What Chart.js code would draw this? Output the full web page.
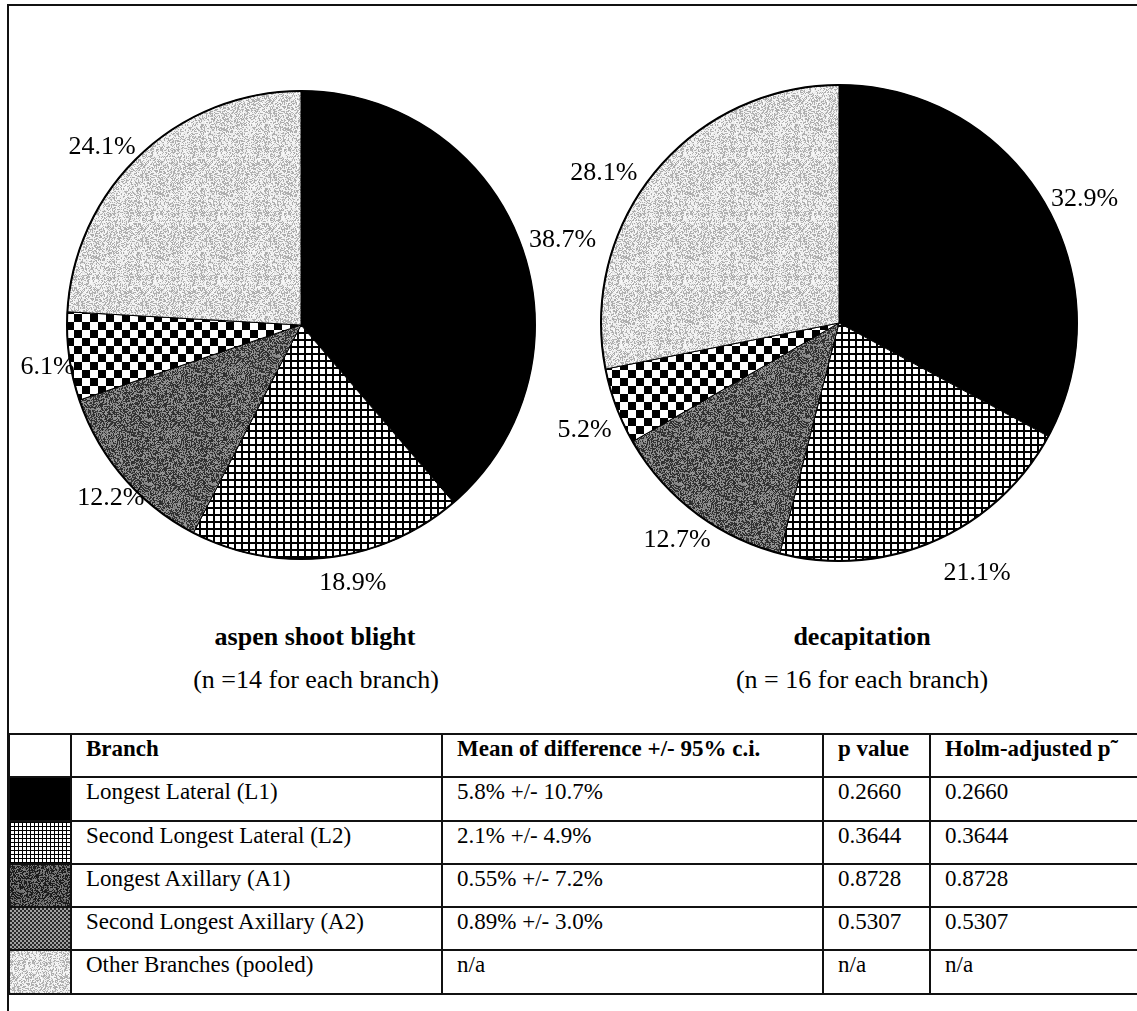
<!DOCTYPE html>
<html>
<head>
<meta charset="utf-8">
<script src="https://cdn.jsdelivr.net/npm/chart.js@4/dist/chart.umd.min.js"></script>
<style>
  html, body { margin: 0; padding: 0; background: #fff; }
  body { width: 1137px; height: 1011px; overflow: hidden; position: relative; font-family: "Liberation Serif", "Times New Roman", serif; color: #000; }
  .frame { position: absolute; left: 7px; top: 4px; width: 1150px; height: 1020px; border-top: 2px solid #111; border-left: 2px solid #111; }
  canvas.pie { position: absolute; top: 10px; }
  .cap { position: absolute; width: 400px; text-align: center; font-size: 26px; line-height: 30px; white-space: nowrap; }
  .cap.b { font-weight: bold; }
  table.stats { position: absolute; left: 8px; top: 733px; border-collapse: collapse; table-layout: fixed; width: 1182px; font-size: 23px; }
  table.stats td { border: 2px solid #111; height: 40.3px; padding: 1px 14px 0 14px; vertical-align: top; line-height: 26px; white-space: nowrap; overflow: hidden; }
  table.stats td.sw { padding: 0; background-repeat: repeat; }
  table.stats tr.head td { font-weight: bold; }
</style>
</head>
<body>
<div class="frame"></div>
<canvas id="pieBlight" class="pie" width="640" height="600" style="left:10px"></canvas>
<canvas id="pieDecap" class="pie" width="597" height="600" style="left:540px"></canvas>
<div class="cap b" id="t1" style="left:115px; top:622px"></div>
<div class="cap" id="s1" style="left:116px; top:665px"></div>
<div class="cap b" id="t2" style="left:662px; top:622px"></div>
<div class="cap" id="s2" style="left:662px; top:665px"></div>
<table class="stats" id="stats">
  <colgroup><col style="width:62px"><col style="width:371px"><col style="width:381px"><col style="width:107px"><col style="width:261px"></colgroup>
</table>
<script>
// ---- data ----
const branches = ['Longest Lateral (L1)', 'Second Longest Lateral (L2)', 'Longest Axillary (A1)', 'Second Longest Axillary (A2)', 'Other Branches (pooled)'];
const blightShares = [38.7, 18.9, 12.2, 6.1, 24.1];
const decapShares = [32.9, 21.1, 12.7, 5.2, 28.1];
const meanDiff = ['5.8% +/- 10.7%', '2.1% +/- 4.9%', '0.55% +/- 7.2%', '0.89% +/- 3.0%', 'n/a'];
const pValues = ['0.2660', '0.3644', '0.8728', '0.5307', 'n/a'];
const holmP = ['0.2660', '0.3644', '0.8728', '0.5307', 'n/a'];
const headers = ['Branch', 'Mean of difference +/- 95% c.i.', 'p value', 'Holm-adjusted p\u02DC'];
const groupTitles = ['aspen shoot blight', 'decapitation'];
const groupNotes = ['(n =14 for each branch)', '(n = 16 for each branch)'];

// ---- fill textures ----
function hash(x, y, k) {
  let h = Math.imul(x, 374761393) + Math.imul(y, 668265263) + Math.imul(k, 2246822519);
  h = Math.imul(h ^ (h >>> 13), 1274126177);
  h = h ^ (h >>> 16);
  return (h >>> 0) / 4294967296;
}
function tile(kind, small) {
  const c = document.createElement('canvas');
  const g = c.getContext('2d');
  if (kind === 'solid') {
    c.width = c.height = 4; g.fillStyle = '#000'; g.fillRect(0, 0, 4, 4);
  } else if (kind === 'grid') {
    const p = small ? 4 : 7, lw = small ? 1 : 2;
    c.width = c.height = p;
    g.fillStyle = '#fff'; g.fillRect(0, 0, p, p);
    g.fillStyle = '#000'; g.fillRect(0, 0, p, lw); g.fillRect(0, 0, lw, p);
  } else if (kind === 'checker') {
    const q = small ? 2 : 8;
    c.width = c.height = q * 2;
    g.fillStyle = small ? '#2a2a2a' : '#000'; g.fillRect(0, 0, q * 2, q * 2);
    g.fillStyle = small ? '#a0a0a0' : '#fff'; g.fillRect(q, 0, q, q); g.fillRect(0, q, q, q);
  } else {
    const n = 64; c.width = c.height = n;
    const img = g.createImageData(n, n);
    const darkBase = small ? 20 : 40, darkHi = small ? 95 : 120;
    for (let y = 0; y < n; y++) for (let x = 0; x < n; x++) {
      const r = hash(x, y, kind === 'dark' ? 1 : 2);
      let v;
      if (kind === 'dark') v = r < 0.5 ? darkBase + r * 40 : darkHi + (r - 0.5) * 80;
      else v = r < 0.4 ? 168 + r * 40 : 228 + (r - 0.4) * 40;
      const i = (y * n + x) * 4;
      img.data[i] = img.data[i + 1] = img.data[i + 2] = v; img.data[i + 3] = 255;
    }
    g.putImageData(img, 0, 0);
  }
  return c;
}
const fillKinds = ['solid', 'grid', 'dark', 'checker', 'light'];
const pieCtx = document.createElement('canvas').getContext('2d');
const slicePatterns = fillKinds.map(k => pieCtx.createPattern(tile(k, false), 'repeat'));

// ---- percentage labels placed around the rim ----
const sliceLabels = {
  id: 'sliceLabels',
  afterDatasetsDraw(chart, args, opts) {
    const ctx = chart.ctx;
    const meta = chart.getDatasetMeta(0);
    const values = chart.data.datasets[0].data;
    ctx.save();
    let cx = 0, cy = 0, rr = 0;
    ctx.font = opts.size + 'px "Liberation Serif", serif';
    ctx.fillStyle = '#000';
    ctx.textAlign = 'center';
    ctx.textBaseline = 'middle';
    meta.data.forEach((arc, i) => {
      const p = arc.getProps(['x', 'y', 'startAngle', 'endAngle', 'outerRadius'], true);
      cx = p.x; cy = p.y; rr = p.outerRadius;
      const a = (p.startAngle + p.endAngle) / 2 + opts.shift[i] * Math.PI / 180;
      const d = p.outerRadius + opts.gap[i];
      ctx.fillText(values[i].toFixed(1) + '%', p.x + Math.cos(a) * d, p.y + Math.sin(a) * d);
    });
    // rim of the pie
    ctx.beginPath();
    ctx.arc(cx, cy, rr, 0, Math.PI * 2);
    ctx.lineWidth = 2;
    ctx.strokeStyle = '#000';
    ctx.stroke();
    ctx.restore();
  }
};

function padFor(w, h, cx, cy, R, bw) {
  const s = 2 * R + bw;
  return { left: cx - s / 2, top: cy - s / 2, right: w - (cx + s / 2), bottom: h - (cy + s / 2) };
}

function makePie(id, shares, center, R, labelPlacement) {
  const cv = document.getElementById(id);
  const bw = 1;
  return new Chart(cv, {
    type: 'pie',
    data: {
      labels: branches,
      datasets: [{ data: shares, backgroundColor: slicePatterns, borderColor: '#000', borderWidth: bw }]
    },
    options: {
      responsive: false,
      animation: false,
      events: [],
      layout: { padding: padFor(cv.width, cv.height, center[0], center[1], R, bw) },
      plugins: {
        legend: { display: false },
        tooltip: { enabled: false },
        sliceLabels: Object.assign({ size: 26 }, labelPlacement)
      }
    },
    plugins: [sliceLabels]
  });
}

makePie('pieBlight', blightShares, [291, 315], 234,
  { shift: [2.3, -4.7, -1.6, -1.7, -4.8], gap: [41, 29, 23, 23, 33] });
makePie('pieDecap', decapShares, [299, 313], 238,
  { shift: [4, -5.3, -0.6, -2.3, -6.9], gap: [37, 48, 33, 38, 41] });

document.getElementById('t1').textContent = groupTitles[0];
document.getElementById('s1').textContent = groupNotes[0];
document.getElementById('t2').textContent = groupTitles[1];
document.getElementById('s2').textContent = groupNotes[1];

// ---- statistics table with fill keys ----
const table = document.getElementById('stats');
const head = document.createElement('tr');
head.className = 'head';
head.appendChild(document.createElement('td'));
headers.forEach(h => { const td = document.createElement('td'); td.textContent = h; head.appendChild(td); });
table.appendChild(head);
branches.forEach((b, i) => {
  const tr = document.createElement('tr');
  const sw = document.createElement('td');
  sw.className = 'sw';
  sw.style.backgroundImage = 'url(' + tile(fillKinds[i], true).toDataURL() + ')';
  tr.appendChild(sw);
  [b, meanDiff[i], pValues[i], holmP[i]].forEach(t => {
    const td = document.createElement('td'); td.textContent = t; tr.appendChild(td);
  });
  table.appendChild(tr);
});
</script>
</body>
</html>
